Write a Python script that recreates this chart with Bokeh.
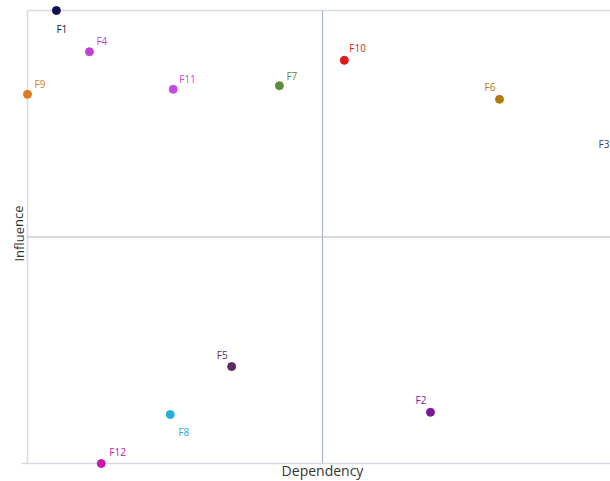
from bokeh.plotting import figure
from bokeh.models import ColumnDataSource, Label, Range1d
from bokeh.core.properties import value
from bokeh.embed import file_html
from bokeh.resources import INLINE

# Data
names = ["F1", "F2", "F3", "F4", "F5", "F6", "F7", "F8", "F9", "F10", "F11", "F12"]
dependency = [4.9, 68.3, 100.0, 10.5, 34.6, 80.0, 42.7, 24.2, 0.0, 53.7, 24.7, 12.5]
influence = [100.0, 11.3, 70.6, 90.9, 21.4, 80.4, 83.4, 10.8, 81.5, 89.0, 82.6, 0.0]
x_min, x_mid, x_max = 0, 50, 100
y_min, y_mid, y_max = 0, 50, 100

# Styles
colors = ["#101050", "#7a1a9a", "#2a3f7a", "#c040d8", "#5a2a60", "#b07a10",
          "#5f8a3a", "#20b0d8", "#e07a20", "#e01818", "#c848e0", "#c81aa8"]
label_dx = [0, -4, -8, 7, -4, -4, 7, 8, 7, 5, 6, 8]
label_dy = [-11, 5, 0, 4, 5, 5, 3, -10, 3, 5, 3, 5]
label_align = ["left", "right", "right", "left", "right", "right", "left",
               "left", "left", "left", "left", "left"]
label_base = ["top", "bottom", "middle", "bottom", "bottom", "bottom", "bottom",
              "top", "bottom", "bottom", "bottom", "bottom"]
FONT = "Open Sans"

W, H = 610, 481
px_left, px_unit_x = 27, 5.9
py_bottom, py_unit_y = 463, 4.53

p = figure(width=W, height=H, output_backend="svg", toolbar_location=None,
           min_border=0, min_border_left=0, min_border_right=0,
           min_border_top=0, min_border_bottom=0)
p.x_range = Range1d(-px_left / px_unit_x, (W - px_left) / px_unit_x)
p.y_range = Range1d(-(H - py_bottom) / py_unit_y, py_bottom / py_unit_y)
p.axis.visible = False
p.grid.visible = False
p.outline_line_color = None
p.background_fill_color = "white"

border = "#d6dbe3"
# frame lines: left, top, bottom
p.segment(x0=[x_min, x_min, x_min - 1], y0=[y_min, y_max, y_min],
          x1=[x_min, x_max, x_max], y1=[y_max, y_max, y_min],
          line_color=border, line_width=1.5)
mid_col = "#aab4c8"
p.segment(x0=[x_mid, x_min], y0=[y_min, y_mid], x1=[x_mid, x_max], y1=[y_max, y_mid],
          line_color=mid_col, line_width=1.2)

src = ColumnDataSource(dict(x=dependency, y=influence, name=names, color=colors))
p.scatter("x", "y", source=src, size=8, fill_color="color", line_color="color")
for i, n in enumerate(names):
    p.add_layout(Label(x=dependency[i], y=influence[i], text=n, x_offset=label_dx[i],
                       y_offset=label_dy[i], text_align=label_align[i],
                       text_baseline=label_base[i], text_color=colors[i],
                       text_font=FONT, text_font_size="10px"))

p.text(x=[x_mid], y=[-(470 - py_bottom) / py_unit_y], text=["Dependency"],
       text_align="center", text_baseline="middle", text_font=value(FONT),
       text_font_size="14px", text_color="#333333")
p.text(x=[-(px_left - 18) / px_unit_x], y=[(py_bottom - 233) / py_unit_y], text=["Influence"],
       angle=1.5708, text_align="center", text_baseline="middle", text_font=value(FONT),
       text_font_size="13px", text_color="#333333")

open("out.html", "w").write(file_html(p, INLINE))
